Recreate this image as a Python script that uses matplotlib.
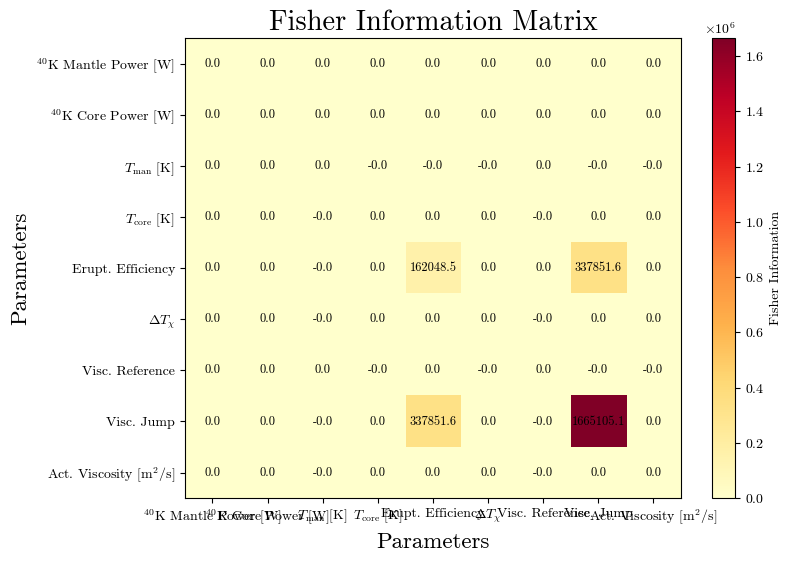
import numpy as np
import matplotlib
matplotlib.use("Agg")
import matplotlib.pyplot as plt

plt.rcParams['font.family'] = 'serif'
plt.rcParams['font.serif'] = ['cmr10']
plt.rcParams['mathtext.fontset'] = 'cm'
plt.rcParams['axes.formatter.use_mathtext'] = True
plt.rcParams['axes.unicode_minus'] = False

params = [r'$^{40}$K Mantle Power [W]', r'$^{40}$K Core Power [W]',
          r'$T_{\rm man}$ [K]', r'$T_{\rm core}$ [K]', 'Erupt. Efficiency',
          r'$\Delta T_\chi$', 'Visc. Reference', 'Visc. Jump',
          r'Act. Viscosity [m$^2$/s]']

# tiny negatives are shown as "-0.0"
n = -0.001
row_mantle = [0, 0, 0, 0, 0, 0, 0, 0, 0]
row_core = [0, 0, 0, 0, 0, 0, 0, 0, 0]
row_tman = [0, 0, 0, n, n, n, 0, n, n]
row_tcore = [0, 0, n, 0, 0, 0, n, 0, 0]
row_erupt = [0, 0, n, 0, 162048.5, 0, 0, 337851.6, 0]
row_dt = [0, 0, n, 0, 0, 0, n, 0, 0]
row_vref = [0, 0, 0, n, 0, n, 0, n, n]
row_vjump = [0, 0, n, 0, 337851.6, 0, n, 1665105.1, 0]
row_act = [0, 0, n, 0, 0, 0, n, 0, 0]

fim = np.array([row_mantle, row_core, row_tman, row_tcore, row_erupt,
                row_dt, row_vref, row_vjump, row_act])

fig = plt.figure(figsize=(7.9, 5.61), dpi=100)
ax = fig.add_axes([0.234, 0.112, 0.628, 0.820])
cax = fig.add_axes([0.901, 0.112, 0.030, 0.820])

im = ax.imshow(fim, cmap='YlOrRd', aspect='auto')
cb = fig.colorbar(im, cax=cax)
cb.set_label('Fisher Information', fontsize=10)
cb.ax.tick_params(labelsize=10)

for i in range(fim.shape[0]):
    for j in range(fim.shape[1]):
        ax.text(j, i, f"{fim[i, j]:.1f}", ha='center', va='center',
                fontsize=9, color='black')

ax.set_xticks(range(len(params)))
ax.set_yticks(range(len(params)))
ax.set_xticklabels(params, fontsize=10)
ax.set_yticklabels(params, fontsize=10)
ax.set_title('Fisher Information Matrix', fontsize=20.5)
ax.set_xlabel('Parameters', fontsize=16.5)
ax.set_ylabel('Parameters', fontsize=16.5)

fig.savefig('out.png', dpi=100)
